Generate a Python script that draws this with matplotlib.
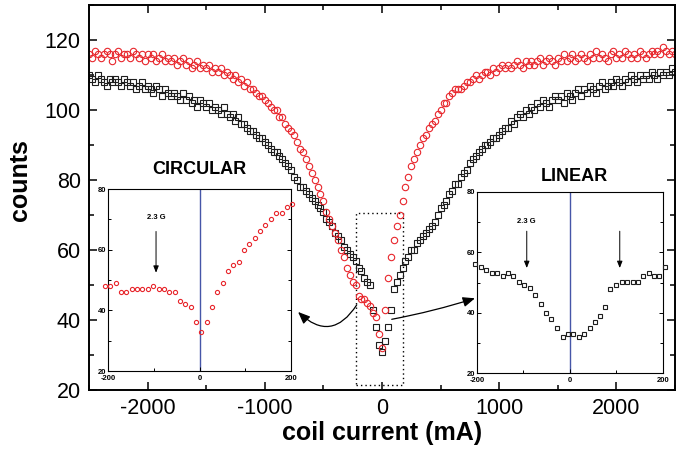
import numpy as np
import matplotlib
matplotlib.use('Agg')
import matplotlib.pyplot as plt
from matplotlib.patches import Rectangle
from matplotlib.ticker import MultipleLocator

plt.rcParams['font.family'] = ['Liberation Sans', 'DejaVu Sans']
plt.rcParams['axes.unicode_minus'] = False

# ---- main data: coil current grid (mA) and counts ----
current_ma = np.arange(-2500, 2501, 25)

circular_counts = [
    116, 115, 117, 116, 115, 116, 117, 116, 114, 116,
    117, 115, 116, 116, 115, 117, 116, 115, 116, 114,
    116, 115, 116, 114, 115, 116, 114, 115, 114, 115,
    113, 114, 115, 113, 114, 112, 113, 114, 112, 113,
    112, 113, 111, 112, 111, 112, 110, 111, 110, 109,
    110, 108, 109, 107, 108, 106, 106, 105, 104, 104,
    103, 102, 101, 100, 100, 98, 98, 96, 95, 94,
    93, 91, 89, 88, 86, 84, 82, 80, 78, 76,
    74, 71, 69, 67, 65, 63, 60, 58, 55, 53,
    51, 50, 47, 46, 46, 45, 44, 42, 41, 36,
    32, 43, 52, 58, 63, 67, 70, 74, 78, 81,
    84, 86, 88, 90, 92, 93, 95, 96, 97, 99,
    100, 102, 102, 104, 105, 106, 106, 106, 107, 108,
    108, 109, 110, 109, 110, 111, 111, 110, 112, 111,
    112, 113, 112, 113, 112, 113, 114, 113, 112, 114,
    113, 114, 113, 114, 115, 113, 114, 115, 114, 113,
    115, 114, 116, 114, 115, 116, 114, 115, 116, 115,
    114, 116, 115, 117, 115, 116, 115, 114, 116, 117,
    115, 116, 115, 117, 116, 115, 116, 115, 117, 116,
    115, 116, 117, 116, 117, 116, 118, 117, 116, 117,
    116,
]

linear_counts = [
    110, 109, 108, 110, 109, 108, 107, 109, 108, 109,
    108, 107, 109, 108, 107, 108, 106, 107, 108, 106,
    107, 106, 105, 107, 106, 104, 106, 105, 104, 105,
    104, 103, 105, 103, 104, 102, 103, 101, 103, 102,
    101, 102, 100, 101, 100, 99, 101, 99, 98, 99,
    97, 98, 96, 96, 95, 94, 94, 93, 92, 92,
    91, 90, 89, 88, 88, 87, 86, 85, 84, 83,
    81, 80, 78, 78, 77, 76, 75, 74, 73, 72,
    71, 69, 68, 67, 65, 64, 63, 61, 60, 59,
    58, 57, 55, 54, 52, 51, 50, 43, 38, 33,
    31, 34, 38, 43, 49, 51, 53, 55, 57, 58,
    60, 60, 62, 63, 64, 65, 66, 67, 68, 70,
    72, 73, 74, 76, 77, 79, 79, 81, 82, 83,
    85, 86, 87, 88, 89, 90, 90, 91, 92, 92,
    93, 94, 95, 95, 97, 96, 98, 99, 98, 100,
    99, 101, 100, 102, 101, 103, 102, 101, 103, 104,
    103, 104, 102, 105, 104, 103, 105, 106, 104, 106,
    105, 107, 106, 105, 107, 108, 106, 107, 108, 107,
    109, 108, 107, 109, 108, 110, 109, 108, 110, 109,
    110, 109, 111, 110, 109, 111, 110, 111, 110, 112,
    111,
]

# ---- inset data ----
circ_x = [-207, -195, -183, -171, -160, -148, -136, -125, -113, -101,
          -89, -78, -66, -54, -43, -31, -19, -8, 4, 16,
          27, 39, 51, 62, 74, 86, 98, 109, 121, 133,
          144, 156, 168, 180, 191, 203]
circ_y = [48, 48, 49, 46, 46, 47, 47, 47, 47, 48,
          47, 47, 46, 46, 43, 42, 41, 36, 33, 36,
          41, 46, 49, 53, 55, 56, 60, 62, 64, 66,
          68, 70, 72, 72, 74, 75]

lin_x = [-204, -192, -180, -168, -156, -145, -133, -122, -110, -98,
         -86, -75, -63, -51, -40, -28, -16, -4, 7, 19,
         30, 42, 53, 65, 76, 87, 99, 112, 123, 135,
         146, 158, 169, 181, 192, 204]
lin_y = [56.1, 55.1, 54.0, 53.0, 53.0, 52.0, 53.0, 52.0, 50.1, 49.1,
         48.1, 46.0, 42.9, 39.9, 37.9, 34.9, 31.9, 32.9, 32.9, 31.9,
         32.9, 34.9, 36.9, 38.9, 42.0, 48.0, 49.1, 50.1, 50.1, 50.1,
         50.1, 52.0, 53.0, 52.0, 52.0, 55.1]

RED = '#e8262c'
BLK = '#1e1e1e'

fig = plt.figure(figsize=(6.91, 4.57), dpi=100)
ax = fig.add_axes([89 / 691, 67 / 457, 586 / 691, 385 / 457])

ax.plot(current_ma, linear_counts, ls='none', marker='s', ms=5, mfc='none',
        mec=BLK, mew=0.8)
ax.plot(current_ma, circular_counts, ls='none', marker='o', ms=4.6, mfc='none',
        mec=RED, mew=0.8)

ax.set_xlim(-2500, 2500)
ax.set_ylim(20, 130)
ax.xaxis.set_major_locator(MultipleLocator(1000))
ax.xaxis.set_minor_locator(MultipleLocator(500))
ax.yaxis.set_major_locator(MultipleLocator(20))
ax.yaxis.set_minor_locator(MultipleLocator(10))
ax.tick_params(which='both', direction='in', top=True, right=True,
               labelsize=15.5, width=1.1, pad=6)
ax.tick_params(which='major', length=6)
ax.tick_params(which='minor', length=3.5)
for s in ax.spines.values():
    s.set_linewidth(1.4)

ax.set_xlabel('coil current (mA)', fontsize=18, fontweight='bold')
ax.set_ylabel('counts', fontsize=18, fontweight='bold')
ax.xaxis.set_label_coords(0.5, -0.08)
ax.yaxis.set_label_coords(-0.097, 0.545)

# dotted box around the dip
ax.add_patch(Rectangle((-225, 21.5), 405, 49, fill=False, ec='k',
                       lw=1.0, ls=(0, (1, 2.2))))

# arrows from dip to insets
ax.annotate('', xy=(-716, 42.3), xytext=(-216, 44.3),
            arrowprops=dict(arrowstyle='-|>,head_length=0.6,head_width=0.25',
                            connectionstyle='arc3,rad=-0.6', color='k', lw=0.9,
                            mutation_scale=12, shrinkA=0, shrinkB=0))
ax.annotate('', xy=(793, 46.2), xytext=(83, 40.2),
            arrowprops=dict(arrowstyle='-|>,head_length=0.6,head_width=0.25',
                            connectionstyle='arc3,rad=0.03', color='k', lw=0.9,
                            mutation_scale=12, shrinkA=0, shrinkB=0))


def style_inset(a):
    a.set_xlim(-200, 200)
    a.set_ylim(20, 80)
    a.xaxis.set_major_locator(MultipleLocator(200))
    a.xaxis.set_minor_locator(MultipleLocator(100))
    a.yaxis.set_major_locator(MultipleLocator(20))
    a.yaxis.set_minor_locator(MultipleLocator(10))
    a.tick_params(which='both', direction='in', top=False, right=True,
                  labelsize=5.5, width=0.7)
    a.tick_params(axis='x', pad=3.2)
    a.tick_params(axis='y', pad=1.5)
    a.tick_params(which='major', length=3)
    a.tick_params(which='minor', length=2)
    for lab in a.get_xticklabels() + a.get_yticklabels():
        lab.set_fontweight('bold')
    for s in a.spines.values():
        s.set_linewidth(0.8)
    a.axvline(0, color='#4656a8', lw=1.0, zorder=1)


# circular inset
ax1 = fig.add_axes([108 / 691, 86 / 457, 183 / 691, 182 / 457])
style_inset(ax1)
ax1.plot(circ_x, circ_y, ls='none', marker='o', ms=3, mfc='none', mec=RED,
         mew=0.8, clip_on=False, zorder=3)
ax1.annotate('', xy=(-95, 52.4), xytext=(-95, 66),
             arrowprops=dict(arrowstyle='-|>,head_length=0.5,head_width=0.2',
                             lw=0.7, color='k', mutation_scale=8,
                             shrinkA=0, shrinkB=0))
ax1.text(-95, 70.6, '2.3 G', ha='center', va='center', fontsize=5.5,
         fontweight='bold')

# linear inset
ax2 = fig.add_axes([477 / 691, 84 / 457, 186 / 691, 181 / 457])
style_inset(ax2)
ax2.plot(lin_x, lin_y, ls='none', marker='s', ms=2.8, mfc='none', mec=BLK,
         mew=0.8, clip_on=False, zorder=3)
for xa in (-93, 107):
    ax2.annotate('', xy=(xa, 54.8), xytext=(xa, 67),
                 arrowprops=dict(arrowstyle='-|>,head_length=0.5,head_width=0.2',
                                 lw=0.7, color='k', mutation_scale=8,
                                 shrinkA=0, shrinkB=0))
ax2.text(-93, 70.2, '2.3 G', ha='center', va='center', fontsize=5.5,
         fontweight='bold')

fig.text(199 / 691, 1 - 170 / 457, 'CIRCULAR', ha='center', va='center',
         fontsize=13, fontweight='bold')
fig.text(574 / 691, 1 - 177 / 457, 'LINEAR', ha='center', va='center',
         fontsize=13, fontweight='bold')

fig.savefig('out.png', dpi=100)
